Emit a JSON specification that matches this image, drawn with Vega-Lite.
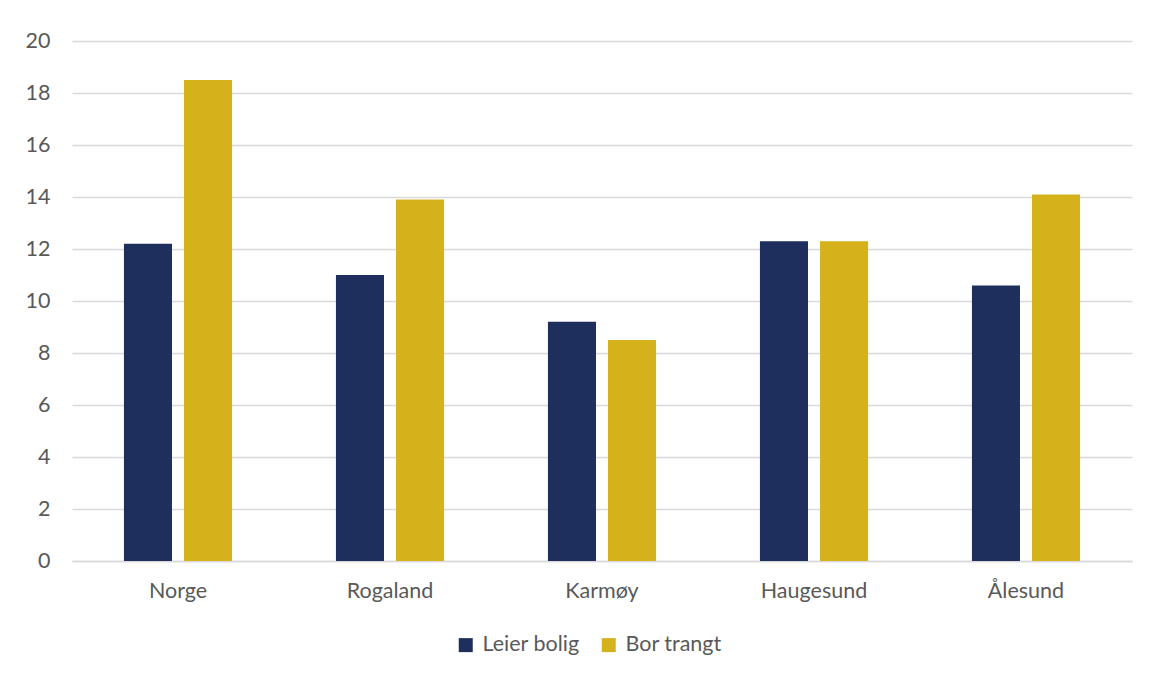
{
  "$schema": "https://vega.github.io/schema/vega-lite/v6.json",
  "width": 1060,
  "height": 520,
  "autosize": {"type": "none"},
  "padding": {"left": 72, "top": 41, "right": 17, "bottom": 116},
  "background": "white",
  "data": {
    "values": [
      {"sted": "Norge", "serie": "Leier bolig", "verdi": 12.2},
      {"sted": "Norge", "serie": "Bor trangt", "verdi": 18.5},
      {"sted": "Rogaland", "serie": "Leier bolig", "verdi": 11.0},
      {"sted": "Rogaland", "serie": "Bor trangt", "verdi": 13.9},
      {"sted": "Karmøy", "serie": "Leier bolig", "verdi": 9.2},
      {"sted": "Karmøy", "serie": "Bor trangt", "verdi": 8.5},
      {"sted": "Haugesund", "serie": "Leier bolig", "verdi": 12.3},
      {"sted": "Haugesund", "serie": "Bor trangt", "verdi": 12.3},
      {"sted": "Ålesund", "serie": "Leier bolig", "verdi": 10.6},
      {"sted": "Ålesund", "serie": "Bor trangt", "verdi": 14.1}
    ]
  },
  "mark": {"type": "bar"},
  "encoding": {
    "x": {
      "field": "sted",
      "type": "nominal",
      "sort": ["Norge", "Rogaland", "Karmøy", "Haugesund", "Ålesund"],
      "scale": {"paddingInner": 0.49, "paddingOuter": 0.245},
      "axis": {
        "title": null,
        "labelAngle": 0,
        "ticks": false,
        "tickSize": 0,
        "labelPadding": 19,
        "domainColor": "#d9d9d9",
        "domainWidth": 1.5,
        "grid": false,
        "labelFont": "Lato",
        "labelFontSize": 21.5,
        "labelColor": "#595959"
      }
    },
    "xOffset": {
      "field": "serie",
      "type": "nominal",
      "sort": ["Leier bolig", "Bor trangt"],
      "scale": {"paddingInner": 0.2, "paddingOuter": 0}
    },
    "y": {
      "field": "verdi",
      "type": "quantitative",
      "scale": {"domain": [0, 20], "nice": false},
      "axis": {
        "title": null,
        "values": [0, 2, 4, 6, 8, 10, 12, 14, 16, 18, 20],
        "domain": false,
        "ticks": false,
        "tickSize": 0,
        "labelPadding": 22,
        "gridColor": "#d9d9d9",
        "gridWidth": 1.5,
        "labelFont": "Lato",
        "labelFontSize": 21.5,
        "labelColor": "#595959"
      }
    },
    "color": {
      "field": "serie",
      "type": "nominal",
      "sort": ["Leier bolig", "Bor trangt"],
      "scale": {"domain": ["Leier bolig", "Bor trangt"], "range": ["#1e2f5e", "#d5b11c"]},
      "legend": {
        "title": null,
        "orient": "none",
        "direction": "horizontal",
        "legendX": 383,
        "legendY": 593,
        "symbolType": "square",
        "symbolSize": 196,
        "symbolStrokeWidth": 0,
        "labelFont": "Lato",
        "labelFontSize": 21.5,
        "labelColor": "#595959",
        "labelOffset": 6,
        "columnPadding": 18
      }
    }
  },
  "config": {
    "view": {"stroke": null}
  }
}
